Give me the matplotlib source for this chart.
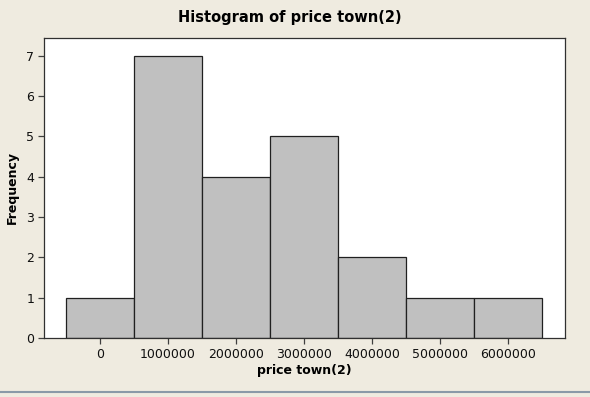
import matplotlib.pyplot as plt
from matplotlib.lines import Line2D

# bin midpoints and counts
bin_centers = [0, 1000000, 2000000, 3000000, 4000000, 5000000, 6000000]
counts = [1, 7, 4, 5, 2, 1, 1]
bin_width = 1000000

bg = '#efebe0'
fig = plt.figure(figsize=(5.9, 3.97), dpi=100, facecolor=bg)
ax = fig.add_axes([0.0746, 0.1486, 0.883, 0.7557])
ax.set_facecolor('white')

ax.bar(bin_centers, counts, width=bin_width, color='#c0c0c0',
       edgecolor='#202020', linewidth=0.9)

ax.set_xlim(-823000, 6840000)
ax.set_ylim(0, 7.44)
ax.set_xticks(bin_centers)
ax.set_xticklabels([str(c) for c in bin_centers])
ax.set_yticks(range(0, 8))

for s in ax.spines.values():
    s.set_color('#303030')
    s.set_linewidth(0.9)
ax.tick_params(direction='out', length=4, width=0.9, color='#404040',
               labelsize=9, labelcolor='#101010', pad=3)

fig.text(0.492, 0.955, 'Histogram of price town(2)', fontsize=10.5,
         fontweight='bold', ha='center', va='center')
ax.set_xlabel('price town(2)', fontsize=9, fontweight='bold', labelpad=2)
ax.set_ylabel('Frequency', fontsize=9, fontweight='bold', va='center')
ax.yaxis.set_label_coords(-0.0605, 0.5)

fig.add_artist(Line2D([0, 1], [0.012, 0.012], transform=fig.transFigure,
                      color='#8a9aa8', linewidth=1.5))

fig.savefig('out.png', dpi=100, facecolor=bg)
